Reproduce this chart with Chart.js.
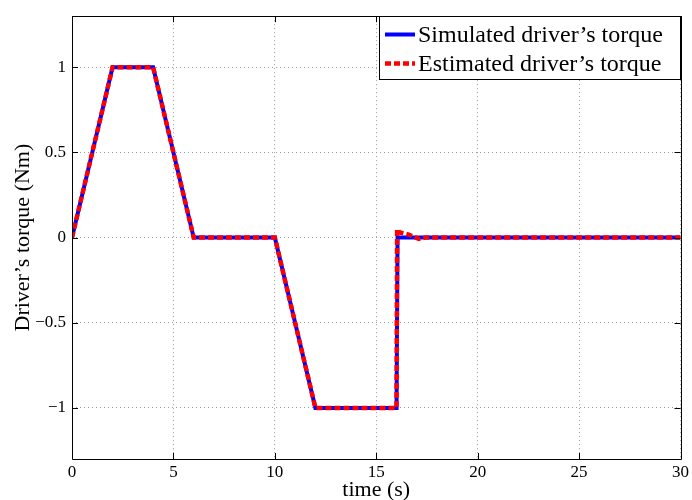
<!DOCTYPE html>
<html>
<head>
<meta charset="utf-8">
<script src="https://cdn.jsdelivr.net/npm/chart.js@4.4.0/dist/chart.umd.min.js"></script>
<style>
html,body{margin:0;padding:0;background:#fff;}
#wrap{width:692px;height:500px;position:relative;}
</style>
</head>
<body>
<div id="wrap"><canvas id="c" width="692" height="500"></canvas></div>
<script>
// Data
const simT = [0, 2, 4, 6, 10, 12, 16, 16.05, 30];
const simV = [0, 1, 1, 0, 0, -1, -1, 0, 0];
const estT = [0, 2, 4, 6, 10, 12, 16, 16.03, 16.15, 16.35, 16.6, 16.85, 17.1, 17.4, 30];
const estV = [0, 1, 1, 0, 0, -1, -1, 0.05, 0.03, 0.025, 0.018, 0.005, -0.008, 0, 0];
const xTicks = [0, 5, 10, 15, 20, 25, 30];
const yTicks = [-1, -0.5, 0, 0.5, 1];
const seriesNames = ["Simulated driver\u2019s torque", "Estimated driver\u2019s torque"];
const xTitle = "time (s)";
const yTitle = "Driver\u2019s torque (Nm)";

const FONT = "'Liberation Serif', 'Times New Roman', serif";

function pts(t, v){ return t.map((x,i)=>({x:x, y:v[i]})); }

const frame = {
  id: 'frame',
  afterDraw(chart){
    const ctx = chart.ctx, a = chart.chartArea;
    const xs = chart.scales.x, ys = chart.scales.y;
    ctx.save();
    ctx.strokeStyle = '#000';
    ctx.lineWidth = 1;
    ctx.beginPath();
    ctx.rect(Math.round(a.left)+0.5, Math.round(a.top)+0.5, Math.round(a.right-a.left), Math.round(a.bottom-a.top));
    ctx.stroke();
    const tl = 6;
    ctx.beginPath();
    xTicks.forEach(v=>{
      const px = Math.round(xs.getPixelForValue(v))+0.5;
      ctx.moveTo(px, a.bottom); ctx.lineTo(px, a.bottom - tl);
      ctx.moveTo(px, a.top); ctx.lineTo(px, a.top + tl);
    });
    yTicks.forEach(v=>{
      const py = Math.round(ys.getPixelForValue(v))+0.5;
      ctx.moveTo(a.left, py); ctx.lineTo(a.left + tl, py);
      ctx.moveTo(a.right, py); ctx.lineTo(a.right - tl, py);
    });
    ctx.stroke();

    // legend
    const bx = 379.5, by = 16.5, bw = 301, bh = 63;
    ctx.fillStyle = '#fff';
    ctx.fillRect(bx, by, bw, bh);
    ctx.strokeStyle = '#000';
    ctx.lineWidth = 1;
    ctx.strokeRect(bx, by, bw, bh);
    const ds = chart.data.datasets;
    const rows = [34.5, 63.5];
    ds.forEach((d,i)=>{
      ctx.beginPath();
      ctx.strokeStyle = d.borderColor;
      ctx.lineWidth = d.borderWidth;
      ctx.setLineDash(d.borderDash || []);
      ctx.moveTo(385, rows[i]); ctx.lineTo(415, rows[i]);
      ctx.stroke();
      ctx.setLineDash([]);
      ctx.fillStyle = '#000';
      ctx.font = '24px ' + FONT;
      ctx.textBaseline = 'middle';
      ctx.textAlign = 'left';
      ctx.fillText(d.label, 418, rows[i]+1);
    });
    ctx.restore();
  }
};

new Chart(document.getElementById('c'), {
  type: 'scatter',
  data: {
    datasets: [
      { label: seriesNames[0], data: pts(simT, simV), showLine: true, borderColor: '#0000ff', backgroundColor: '#0000ff', borderWidth: 4, pointRadius: 0, tension: 0, order: 2 },
      { label: seriesNames[1], data: pts(estT, estV), showLine: true, borderColor: '#ff0000', backgroundColor: '#ff0000', borderWidth: 4.5, borderDash: [6,3], pointRadius: 0, tension: 0, order: 1 }
    ]
  },
  options: {
    responsive: false,
    animation: false,
    layout: { padding: { left: 0, right: 10, top: 13, bottom: 0 } },
    plugins: { legend: { display: false }, tooltip: { enabled: false } },
    scales: {
      x: {
        type: 'linear', min: 0, max: 30,
        afterBuildTicks(s){ s.ticks = xTicks.map(v=>({value:v})); },
        afterFit(s){ s.height = 41; },
        grid: { color: '#9a9a9a', lineWidth: 1, drawTicks: false },
        border: { display: false, dash: [1,3] },
        ticks: { color: '#000', font: { family: FONT, size: 17 }, padding: 3, maxRotation: 0 },
        title: { display: true, text: xTitle, color: '#000', font: { family: FONT, size: 22 }, padding: { top: 0, bottom: -3 } }
      },
      y: {
        type: 'linear', min: -1.3, max: 1.3,
        afterBuildTicks(s){ s.ticks = yTicks.map(v=>({value:v})); },
        afterFit(s){ s.width = 72; },
        grid: { color: '#9a9a9a', lineWidth: 1, drawTicks: false },
        border: { display: false, dash: [1,3] },
        ticks: { color: '#000', font: { family: FONT, size: 17 }, padding: 6,
          callback: v => (v < 0 ? '\u2212' + String(-v) : String(v)) },
        title: { display: true, text: yTitle, color: '#000', font: { family: FONT, size: 22 }, padding: { top: 10, bottom: 0 } }
      }
    }
  },
  plugins: [frame]
});
</script>
</body>
</html>
